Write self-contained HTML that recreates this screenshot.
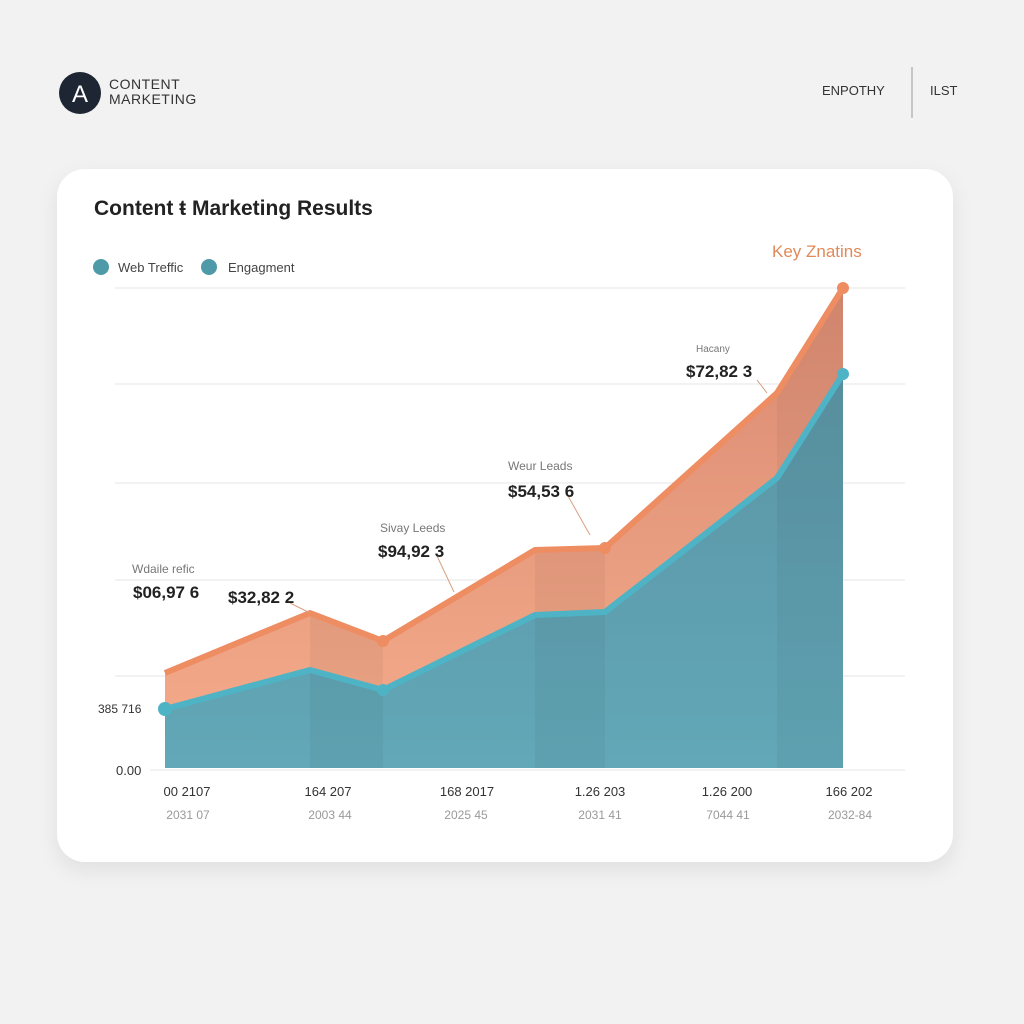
<!DOCTYPE html>
<html><head><meta charset="utf-8"><style>
body{margin:0;width:1024px;height:1024px;background:#f2f2f2;font-family:"Liberation Sans",sans-serif;overflow:hidden}
</style></head><body>
<svg width="1024" height="1024" xmlns="http://www.w3.org/2000/svg" style="position:absolute;left:0;top:0">
<defs>
<filter id="sh" x="-10%" y="-10%" width="120%" height="130%"><feDropShadow dx="0" dy="8" stdDeviation="10" flood-color="#000" flood-opacity="0.08"/></filter>
<linearGradient id="tg" x1="0" y1="0" x2="0" y2="1"><stop offset="0" stop-color="#5b94a4"/><stop offset="1" stop-color="#62a8b8"/></linearGradient>
<linearGradient id="og" x1="0" y1="0" x2="0" y2="1"><stop offset="0" stop-color="#d98a72"/><stop offset="1" stop-color="#f2a888"/></linearGradient>
<clipPath id="area"><polygon points="165,673 310,613 383,641 535,550 605,548 777,393 843,288 843,768 165,768"/></clipPath>
</defs>
<rect width="1024" height="1024" fill="#f2f2f2"/>
<circle cx="80" cy="93" r="21" fill="#1f2633"/>
<text x="80" y="102" font-size="24" fill="#fff" text-anchor="middle">A</text>
<text x="109" y="89" font-size="14" fill="#333" letter-spacing="0.5">CONTENT</text>
<text x="109" y="104" font-size="14" fill="#333" letter-spacing="0.5">MARKETING</text>
<text x="822" y="95" font-size="13" fill="#333">ENPOTHY</text>
<line x1="912" y1="67" x2="912" y2="118" stroke="#999" stroke-width="1"/>
<text x="930" y="95" font-size="13" fill="#333">ILST</text>
<rect x="57" y="169" width="896" height="693" rx="28" fill="#fff" filter="url(#sh)"/>
<text x="94" y="215" font-size="21" fill="#222" font-weight="600">Content ŧ Marketing Results</text>
<circle cx="101" cy="267" r="8" fill="#4f9aa9"/>
<text x="118" y="272" font-size="13" fill="#444">Web Treffic</text>
<circle cx="209" cy="267" r="8" fill="#4f9aa9"/>
<text x="228" y="272" font-size="13" fill="#444">Engagment</text>
<text x="772" y="257" font-size="17" fill="#e08a5a">Key Znatins</text>
<g stroke="#e6e6e6" stroke-width="1">
<line x1="115" y1="288" x2="905" y2="288"/><line x1="115" y1="384" x2="905" y2="384"/>
<line x1="115" y1="483" x2="905" y2="483"/><line x1="115" y1="580" x2="905" y2="580"/>
<line x1="115" y1="676" x2="905" y2="676"/><line x1="150" y1="770" x2="905" y2="770"/>
</g>
<polygon points="165,673 310,613 383,641 535,550 605,548 777,393 843,288 843,374 777,478 605,612 535,615 383,690 310,670 165,709" fill="url(#og)"/>
<polygon points="165,709 310,670 383,690 535,615 605,612 777,478 843,374 843,768 165,768" fill="url(#tg)"/>
<g fill="#000" opacity="0.04" clip-path="url(#area)"><rect x="310" y="280" width="73" height="488"/><rect x="535" y="280" width="70" height="488"/><rect x="777" y="280" width="66" height="488"/></g>
<polyline points="165,673 310,613 383,641 535,550 605,548 777,393 843,288" fill="none" stroke="#ee8c62" stroke-width="6" stroke-linejoin="round"/>
<polyline points="165,709 310,670 383,690 535,615 605,612 777,478 843,374" fill="none" stroke="#4fb3c6" stroke-width="6" stroke-linejoin="round"/>
<g fill="#ee8c62"><circle cx="383" cy="641" r="6"/><circle cx="605" cy="548" r="6"/><circle cx="843" cy="288" r="6"/></g>
<g fill="#4fb3c6"><circle cx="165" cy="709" r="7"/><circle cx="383" cy="690" r="6"/><circle cx="843" cy="374" r="6"/></g>
<g stroke="#d9a080" stroke-width="1"><line x1="290" y1="603" x2="310" y2="613"/><line x1="437" y1="556" x2="454" y2="592"/><line x1="568" y1="496" x2="590" y2="535"/><line x1="757" y1="380" x2="767" y2="393"/></g>
<g font-size="17" fill="#222" font-weight="600">
<text x="133" y="598">$06,97 6</text><text x="228" y="603">$32,82 2</text>
<text x="378" y="557">$94,92 3</text><text x="508" y="497">$54,53 6</text><text x="686" y="377">$72,82 3</text>
</g>
<g font-size="12" fill="#777">
<text x="132" y="573">Wdaile refic</text><text x="380" y="532">Sivay Leeds</text>
<text x="508" y="470">Weur Leads</text><text x="696" y="352" font-size="10">Hacany</text>
</g>
<text x="98" y="713" font-size="12" fill="#333">385 716</text>
<text x="116" y="775" font-size="13" fill="#333">0.00</text>
<g font-size="13" fill="#333" text-anchor="middle">
<text x="187" y="796">00 2107</text><text x="328" y="796">164 207</text><text x="467" y="796">168 2017</text>
<text x="600" y="796">1.26 203</text><text x="727" y="796">1.26 200</text><text x="849" y="796">166 202</text>
</g>
<g font-size="12" fill="#999" text-anchor="middle">
<text x="188" y="819">2031 07</text><text x="330" y="819">2003 44</text><text x="466" y="819">2025 45</text>
<text x="600" y="819">2031 41</text><text x="728" y="819">7044 41</text><text x="850" y="819">2032-84</text>
</g>
</svg>
</body></html>
